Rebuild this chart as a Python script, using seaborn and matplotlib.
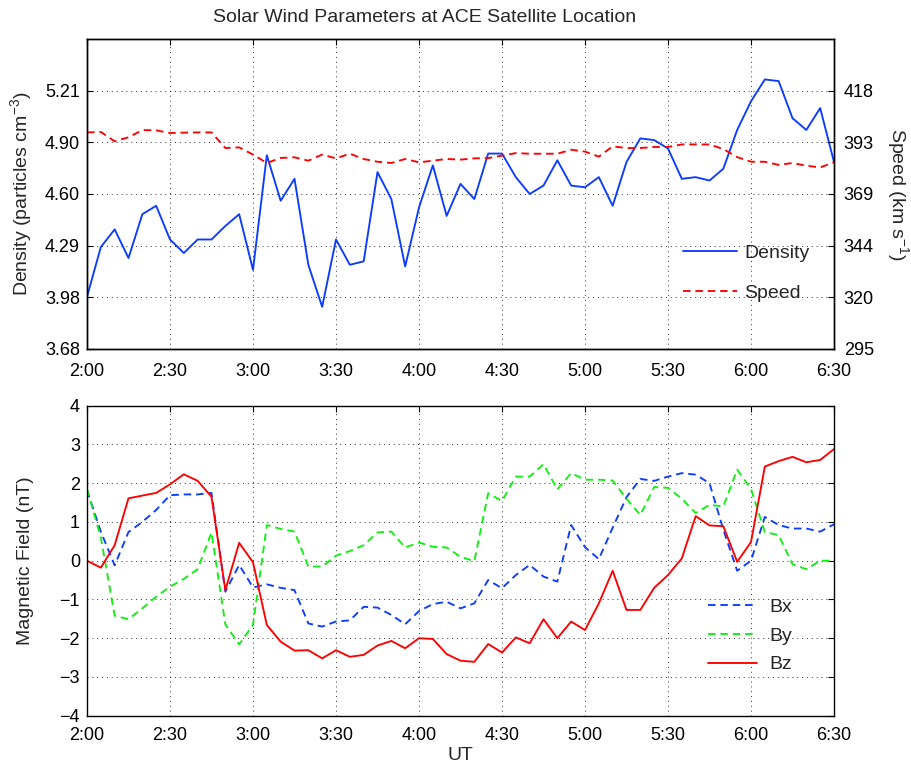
import numpy as np
import pandas as pd
import matplotlib
matplotlib.use("Agg")
import matplotlib.pyplot as plt
import seaborn as sns

# Time axis: minutes after 2:00 UT, 5-minute cadence up to 6:30
minutes = np.arange(0, 275, 5)
tick_minutes = [0, 30, 60, 90, 120, 150, 180, 210, 240, 270]
tick_labels = ["2:00", "2:30", "3:00", "3:30", "4:00", "4:30",
               "5:00", "5:30", "6:00", "6:30"]

# Plasma parameters
density = [3.99, 4.285, 4.39, 4.22, 4.48, 4.53, 4.33, 4.25, 4.33, 4.33,
           4.41, 4.48, 4.15, 4.83, 4.56, 4.69, 4.18, 3.93, 4.33, 4.18,
           4.20, 4.73, 4.57, 4.17, 4.52, 4.77, 4.47, 4.66, 4.57, 4.84,
           4.84, 4.70, 4.60, 4.65, 4.80, 4.65, 4.64, 4.70, 4.53, 4.79,
           4.93, 4.92, 4.87, 4.69, 4.70, 4.68, 4.75, 4.98, 5.15, 5.28,
           5.27, 5.05, 4.98, 5.11, 4.79]
speed = [397.7, 397.9, 393.5, 395.4, 398.8, 398.7, 397.4, 397.6, 397.7, 397.7,
         390.3, 390.6, 387.2, 383.2, 385.6, 385.9, 384.3, 387.2, 385.4, 387.6,
         385.1, 383.8, 383.2, 385.1, 383.5, 384.3, 385.1, 384.8, 385.4, 385.5,
         386.7, 387.9, 387.6, 387.6, 387.6, 389.5, 388.6, 386.2, 391.1, 390.3,
         390.3, 390.8, 390.8, 392.0, 392.0, 392.0, 389.8, 386.0, 383.8, 383.8,
         382.3, 383.2, 381.9, 381.1, 383.5]

# Interplanetary magnetic field components (nT)
bx = [1.82, 0.75, -0.12, 0.74, 1.0, 1.31, 1.69, 1.71, 1.71, 1.75,
      -0.80, -0.11, -0.69, -0.61, -0.70, -0.76, -1.62, -1.70, -1.57, -1.54,
      -1.19, -1.21, -1.40, -1.64, -1.30, -1.12, -1.06, -1.23, -1.10, -0.50,
      -0.71, -0.37, -0.11, -0.41, -0.54, 0.92, 0.35, 0.04, 0.85, 1.64,
      2.11, 2.06, 2.17, 2.26, 2.22, 2.0, 0.8, -0.26, 0.0, 1.13,
      0.92, 0.83, 0.83, 0.75, 0.94]
by = [1.85, 0.6, -1.42, -1.51, -1.23, -0.93, -0.67, -0.47, -0.22, 0.73,
      -1.64, -2.16, -1.66, 0.92, 0.82, 0.75, -0.15, -0.15, 0.13, 0.25,
      0.40, 0.73, 0.75, 0.34, 0.47, 0.36, 0.34, 0.10, -0.01, 1.74,
      1.54, 2.17, 2.17, 2.49, 1.84, 2.26, 2.09, 2.09, 2.07, 1.6,
      1.18, 1.9, 1.88, 1.6, 1.23, 1.44, 1.40, 2.35, 1.85, 0.74,
      0.66, -0.09, -0.22, 0.0, 0.0]
bz = [0.0, -0.18, 0.40, 1.61, 1.68, 1.75, 1.97, 2.23, 2.06, 1.65,
      -0.76, 0.46, -0.04, -1.66, -2.09, -2.32, -2.31, -2.52, -2.31, -2.48,
      -2.43, -2.19, -2.07, -2.26, -2.00, -2.02, -2.41, -2.58, -2.61, -2.15,
      -2.37, -1.98, -2.13, -1.51, -2.00, -1.57, -1.79, -1.10, -0.26, -1.27,
      -1.27, -0.70, -0.37, 0.06, 1.15, 0.91, 0.89, -0.03, 0.48, 2.43,
      2.57, 2.68, 2.54, 2.60, 2.88]

# Axis scales
density_ticks = [3.68, 3.9867, 4.2933, 4.60, 4.9067, 5.2133]
density_labels = ["3.68", "3.98", "4.29", "4.60", "4.90", "5.21"]
speed_ticks = [295, 319.5, 344, 368.5, 393, 417.5]
speed_labels = ["295", "320", "344", "369", "393", "418"]
field_ticks = [-4, -3, -2, -1, 0, 1, 2, 3, 4]

plasma = pd.DataFrame({"minutes": minutes, "density": density, "speed": speed})
field = pd.DataFrame({"minutes": minutes, "Bx": bx, "By": by, "Bz": bz})

sns.set_theme(style="white")
plt.rcParams["font.family"] = ["Liberation Sans", "DejaVu Sans"]
plt.rcParams["mathtext.fontset"] = "custom"
plt.rcParams["mathtext.rm"] = "Liberation Sans"
plt.rcParams["mathtext.it"] = "Liberation Sans"
plt.rcParams["axes.unicode_minus"] = True

FS = 13      # tick labels
FS_TXT = 14  # title, axis labels, legends
BLUE = "#0a3cff"
RED = "#ff0000"
GREEN = "#11ee11"
LW = 1.35
DASH = (0, (4, 2.6))

fig = plt.figure(figsize=(9.12, 7.68), dpi=100)
ax1 = fig.add_axes([87 / 912, 1 - 349 / 768, 747 / 912, 310 / 768])
ax2 = fig.add_axes([87 / 912, 1 - 715.7 / 768, 747 / 912, 310 / 768])
ax1r = ax1.twinx()

# --- Top panel: density and speed
sns.lineplot(data=plasma, x="minutes", y="density", ax=ax1, color=BLUE,
             lw=LW, label="Density", legend=False)
sns.lineplot(data=plasma, x="minutes", y="speed", ax=ax1r, color=RED,
             lw=LW, linestyle=DASH, label="Speed", legend=False)

ax1.set_ylim(3.68, 5.52)
ax1r.set_ylim(295, 442)
ax1.set_yticks(density_ticks)
ax1.set_yticklabels(density_labels)
ax1r.set_yticks(speed_ticks)
ax1r.set_yticklabels(speed_labels)

# --- Bottom panel: field components
sns.lineplot(data=field, x="minutes", y="Bx", ax=ax2, color=BLUE, lw=LW,
             linestyle=DASH, label="Bx", legend=False)
sns.lineplot(data=field, x="minutes", y="By", ax=ax2, color=GREEN, lw=LW,
             linestyle=DASH, label="By", legend=False)
sns.lineplot(data=field, x="minutes", y="Bz", ax=ax2, color=RED, lw=LW,
             label="Bz", legend=False)
ax2.set_ylim(-4, 4)
ax2.set_yticks(field_ticks)

for ax in (ax1, ax2):
    ax.set_xlim(0, 270)
    ax.set_xticks(tick_minutes)
    ax.set_xticklabels(tick_labels)
    ax.grid(True, color="#333333", linestyle=(0, (1, 4)), lw=0.7)
    ax.tick_params(axis="both", direction="in", length=4, width=0.8,
                   labelsize=FS, colors="black", top=True)
    ax.tick_params(axis="y", pad=5)
    for s in ax.spines.values():
        s.set_color("black")
        s.set_linewidth(1.0)
    ax.set_xlabel("")

ax1.tick_params(axis="x", pad=10)
ax2.tick_params(axis="x", pad=8)
ax2.tick_params(axis="y", right=True)
ax1r.tick_params(axis="y", direction="in", length=4, width=0.8,
                 labelsize=FS, colors="black", pad=7)
ax1r.grid(False)
for s in ax1r.spines.values():
    s.set_color("black")
    s.set_linewidth(1.0)

ax1.set_ylabel(r"Density (particles cm$^{-3}$)", fontsize=FS_TXT)
ax1.yaxis.set_label_coords(-0.071, 0.5)
ax1r.set_ylabel(r"Speed (km s$^{-1}$)", fontsize=FS_TXT, rotation=270)
ax1r.yaxis.set_label_coords(1.103, 0.5)
ax2.set_ylabel("Magnetic Field (nT)", fontsize=FS_TXT)
ax2.yaxis.set_label_coords(-0.071, 0.5)
ax2.set_xlabel("UT", fontsize=FS_TXT, labelpad=2)

fig.text(425 / 912, 1 - 18 / 768, "Solar Wind Parameters at ACE Satellite Location",
         ha="center", va="center", fontsize=FS_TXT)

# Legends
handles = ax1.get_lines()[:1] + ax1r.get_lines()[:1]
ax1r.legend(handles, ["Density", "Speed"], loc="center left",
            bbox_to_anchor=(0.798, 0.245), frameon=False, fontsize=FS_TXT,
            handlelength=2.75, handletextpad=0.4, labelspacing=1.15,
            borderpad=0, borderaxespad=0)
ax2.legend(loc="center left", bbox_to_anchor=(0.831, 0.258), frameon=False,
           fontsize=FS_TXT, handlelength=2.55, handletextpad=0.6, labelspacing=0.58,
           borderpad=0, borderaxespad=0)

fig.savefig("out.png", dpi=100, facecolor="white")
